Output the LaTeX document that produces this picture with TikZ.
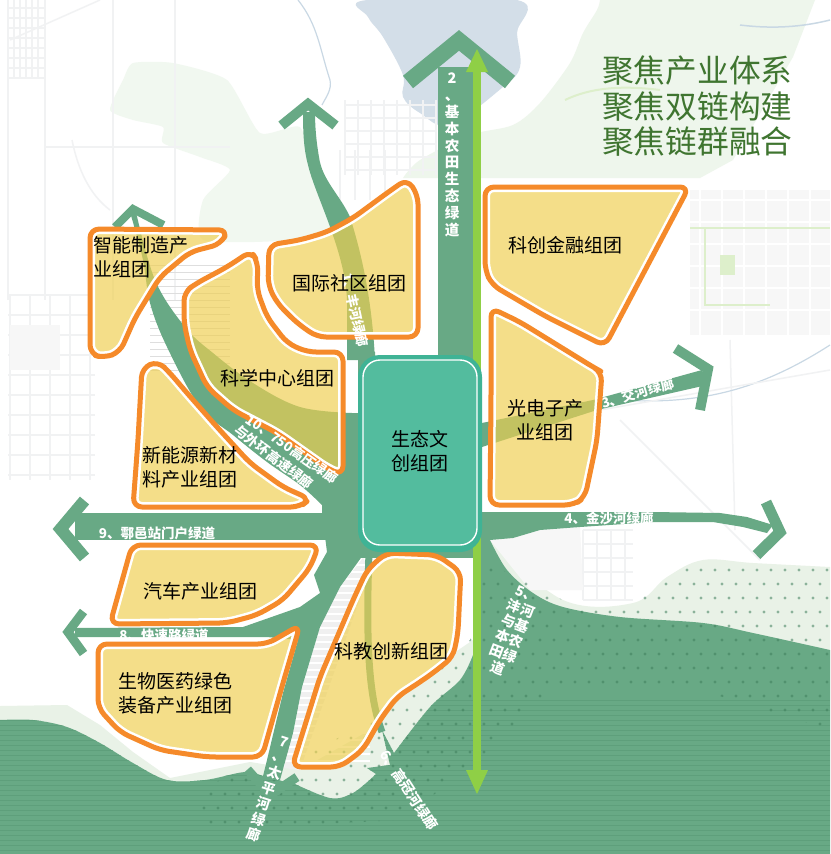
\documentclass[tikz,border=0pt]{standalone}
\usepackage{fontspec}
\setmainfont{Noto Sans CJK SC}
\definecolor{corgreen}{HTML}{68A985}
\definecolor{lime}{HTML}{8FCF46}
\definecolor{orangeln}{HTML}{F58A2A}
\definecolor{blockcol}{HTML}{EFCF50}
\definecolor{palegr}{HTML}{EEF6EC}
\definecolor{palezone}{HTML}{E9F2E7}
\definecolor{roadgr}{HTML}{F1F2F3}
\definecolor{lakecol}{HTML}{D3DEE8}
\definecolor{rivercol}{HTML}{C9D8E4}
\definecolor{titlecol}{HTML}{3F7530}
\definecolor{tealin}{HTML}{53BC9E}
\definecolor{tealout}{HTML}{3FB395}
\definecolor{stripecol}{HTML}{5E9F7B}
\definecolor{dotcol}{HTML}{3F7F5C}
\definecolor{accent}{HTML}{DDEFCB}
\tikzset{
  cor/.style={fill=corgreen},
  chev/.style={draw=corgreen,line join=miter,line cap=butt},
  road/.style={draw=roadgr,line width=1.5},
  blockfill/.style={fill=blockcol,fill opacity=0.67},
  blockline/.style={draw=orangeln,line width=5,line join=round},
  lab/.style={text=black,font=\fontsize{19}{24}\selectfont,inner sep=0pt},
  wl/.style={text=white,font=\bfseries\fontsize{13.5}{16}\selectfont,inner sep=0pt},
  ws/.style={text=white,font=\bfseries\fontsize{14.5}{16.8}\selectfont,inner sep=0pt,align=center},
}
\def\blockA{(90,300)--(90,229)--(228,230)--(221,244)--(190,252)--(160,277)--(135,318)--(120,352)--(104,358)--(90,354)--cycle}
\def\blockB{(343,420)--(343,475)--(328,469)--(277,433)--(233,410)--(207,387)--(190,350)--(184,323)--(184,292)--(197,283)--(227,267)--(251,251)--(258,262)--(257,290)--(267,317)--(287,343)--(307,352)--(343,352)--cycle}
\def\blockC{(418,270)--(418,337)--(317,337)--(297,323)--(277,303)--(268,285)--(269,245)--(300,240)--(327,232)--(353,218)--(387,193)--(407,179)--(418,195)--cycle}
\def\blockD{(138,440)--(142,368)--(158,361)--(170,373)--(187,393)--(217,427)--(250,463)--(283,487)--(310,499)--(300,507)--(133,507)--cycle}
\def\blockE{(220,545)--(319,545)--(310,568)--(283,600)--(257,615)--(227,623)--(110,624)--(132,545)--cycle}
\def\blockF{(200,644)--(267,644)--(300,625)--(283,683)--(262,757)--(207,757)--(160,750)--(120,732)--(98,708)--(98,644)--cycle}
\def\blockG{(460,590)--(458,633)--(453,657)--(433,673)--(420,682)--(397,697)--(380,720)--(363,750)--(340,767)--(292,767)--(320,677)--(353,600)--(367,570)--(386,553)--(437,555)--(461,572)--cycle}
\def\blockH{(491,400)--(491,308)--(520,322)--(593,367)--(602,372)--(597,440)--(585,497)--(574,505)--(490,505)--cycle}
\def\blockI{(590,187)--(689,187)--(605,346)--(545,316)--(492,285)--(485,270)--(485,187)--cycle}
\newcommand{\drawblock}[1]{%
  \begin{scope}[rounded corners=9]
  \fill[blockfill] #1;
  \begin{scope}\clip #1; \draw[white,line width=10] #1;\end{scope}
  \draw[blockline] #1;
  \end{scope}}
\def\massp{plot[smooth,tension=.55] coordinates {(0,720)(33,720)(67,727)(100,743)(133,763)(167,780)(205,780)(245,772)(265,777)} -- (290,783) -- plot[smooth,tension=.55] coordinates {(293,783)(330,798)(353,793)(376,774)} -- (367,768) -- (390,765) -- (382,730) -- (394,753) -- plot[smooth,tension=.55] coordinates {(394,753)(430,707)(460,680)(473,655)} -- (473,540) -- plot[smooth,tension=.55] coordinates {(490,540)(507,570)(533,593)(563,607)(620,617)(703,623)(753,633)(830,650)} -- (830,854) -- (0,854) -- cycle}
\begin{document}
\begin{tikzpicture}[x=1pt,y=-1pt]
\useasboundingbox (0,0) rectangle (830,854);
\fill[white] (0,0) rectangle (830,854);
% ---- base map
\fill[palegr!80!white] plot[smooth cycle,tension=.35] coordinates {(133,63)(173,63)(227,80)(260,133)(300,127)(315,175)(350,220)(290,240)(203,240)(203,200)(230,170)(200,157)(163,143)(163,127)(133,120)(110,110)(123,80)};
\fill[palegr] plot[smooth,tension=.5] coordinates {(600,0)(597,10)(583,33)(570,63)(540,103)(513,125)(470,135)(420,160)(403,178)} -- (700,178) -- (733,160) -- (793,57) -- (815,0) -- cycle;
\fill[black!3] (690,190) rectangle (830,335);
\foreach \x in {700,722,...,830} \draw[white,line width=1.6] (\x,185) -- (\x,340);
\foreach \y in {200,222,...,330} \draw[white,line width=1.6] (685,\y) -- (830,\y);
\draw[accent,line width=1.6] (690,228) -- (830,228);
\draw[accent,line width=2] (705,228) -- (705,305) -- (770,305);
\fill[accent] (720,255) rectangle (735,275);
\draw[accent,line width=2] (565,100) .. controls (590,88) and (620,85) .. (660,90);
\draw[rivercol,line width=1.5] (740,25) .. controls (780,30) and (810,25) .. (830,20);
\fill[lakecol] plot[smooth cycle,tension=.6] coordinates {(367,0)(368,17)(383,37)(403,75)(403,97)(420,113)(450,125)(503,87)(520,67)(517,33)(517,0)};
% left side roads
\foreach \x in {8,45,113,175} \draw[road] (\x,0) -- (\x,300);
\draw[road] (45,147) -- (230,147);
\foreach \x in {14,20,26,32,38} \draw[road] (\x,0) -- (\x,78);
\foreach \y in {8,18,...,78} \draw[road] (8,\y) -- (45,\y);
\draw[road] (10,40) -- (100,0);
\draw[road] (72,140) .. controls (78,170) and (90,195) .. (110,210);
\draw[rivercol,line width=1.2] (298,0) .. controls (318,25) and (320,50) .. (330,80) .. controls (332,90) and (326,97) .. (322,105);
\foreach \x in {10,30,...,90} \draw[road] (\x,295) -- (\x,480);
\foreach \y in {295,315,...,475} \draw[road] (8,\y) -- (95,\y);
\fill[black!3] (10,325) rectangle (60,370);
\foreach \x in {345,358,...,436} \draw[road] (\x,100) -- (\x,175);
\foreach \y in {105,118,...,170} \draw[road] (345,\y) -- (436,\y);
\foreach \x in {340,355,...,385} \draw[road] (\x,150) -- (\x,200);
\foreach \x in {583,597,...,633} \draw[road] (\x,530) -- (\x,600);
\foreach \y in {530,544,...,600} \draw[road] (583,\y) -- (633,\y);
\draw[road] (730,340) -- (735,530);
\draw[road] (620,420) -- (760,560);
\draw[rivercol,line width=1.2] (620,400) .. controls (700,405) and (760,390) .. (830,345);
\draw[road] (600,410) -- (830,370);
\foreach \y in {265,272,...,370} \draw[black!13,line width=.6] (150,\y) -- (230,\y);
% ---- pale zones
\fill[palezone] plot[smooth,tension=.6] coordinates {(490,540)(563,600)(633,603)(667,577)(703,560)(753,563)(830,567)} -- (830,700) -- (490,700) -- cycle;
\fill[black!3] (490,540) -- (540,530) -- (580,527) -- (583,590) -- (530,590) -- cycle;
\fill[palezone] (0,706) -- (67,705) -- (100,725) -- (133,752) -- (170,778) -- (250,762) -- (300,770) -- (370,730) -- (400,690) -- (473,640) -- (473,800) -- (0,800) -- cycle;
\fill[black!6] (363,558) -- (340,587) -- (320,627) -- (302,687) -- (292,733) -- (284,768) -- (300,770) -- (370,570) -- cycle;
\foreach \y in {565,572,...,765} \draw[white,line width=1.5] (280,\y) -- (370,\y);
% ---- mass
\fill[cor] \massp;
\begin{scope}
  \clip \massp;
  \foreach \y in {700,705,...,850} \draw[stripecol,line width=.6] (0,\y) -- (830,\y);
\end{scope}
\begin{scope}
  \clip (200,785) -- (290,765) -- (370,720) -- (400,690) -- (470,640) -- (482,560) -- (563,600) -- (633,600) -- (667,575) -- (703,558) -- (830,565) -- (830,730) -- (700,690) -- (550,690) -- (480,760) -- (400,820) -- (200,830) -- cycle;
  \foreach \j in {0,...,20}{
    \foreach \i in {0,...,46}{
      \pgfmathsetmacro{\px}{190+14*\i+7*mod(\j,2)}
      \pgfmathsetmacro{\py}{556+14*\j}
      \fill[dotcol,fill opacity=.55] (\px,\py) circle (1.6);
    }
  }
\end{scope}
% ---- corridors
\fill[cor] (438,67) -- (481,67) -- (481,360) -- (438,360) -- cycle;
\draw[chev,line width=16] (408,82) -- (459,40.4) -- (510,82);
% corridor 1
\fill[cor] (303,112) .. controls (303,135) and (304,150) .. (308,165) .. controls (315,195) and (345,250) .. (347,300) -- (347,360) -- (375,360) .. controls (372,300) and (362,255) .. (350,217) .. controls (340,195) and (322,180) .. (319,157) .. controls (316,140) and (315,125) .. (315,112) -- cycle;
\draw[chev,line width=10] (281.5,125.5) -- (308,104) -- (335.5,125.5);
% corridor 10/11 funnel
\fill[cor] plot[smooth,tension=.6] coordinates {(136,212)(155,280)(185,327)(213,353)(253,383)(300,407)(352,413)} -- (358,413) -- (358,552) -- (327,552) -- (322,513) -- plot[smooth,tension=.6] coordinates {(322,505)(300,485)(267,462)(233,435)(200,407)(167,347)(150,303)(143,260)(130,212)} -- cycle;
\draw[chev,line width=8] (115,227) -- (133,209) -- (163.5,225);
% hub
\fill[cor] (350,352) -- (375,352) -- (375,552) -- (358,552) -- (358,355) -- cycle;
\fill[cor] (358,500) -- (482,500) -- (482,558) -- (358,558) -- cycle;
% corridor 9
\fill[cor] (75,513) -- (360,513) -- (360,540) -- (75,540) -- cycle;
\draw[chev,line width=12] (84.5,500.5) -- (60.5,529) -- (84.5,557.5);
% corridor 8 and trunk 7
\fill[cor] (327,552) -- (314,575) -- (320,593) -- (300,607) -- (283,613) -- (243,627) -- (75,628) -- (75,637) -- (267,637) -- (298,640) -- (283,693) -- (267,760) -- (262,780) -- (280,780) -- (293,733) -- (302,687) -- (320,627) -- (340,587) -- (363,555) -- (358,540) -- cycle;
\draw[chev,line width=9] (83.5,611.5) -- (68,632) -- (83.5,653.5);
\draw[chev,line width=9] (247.5,769.5) -- (270,795) -- (297,777);
% corridor 3
\fill[cor] (482,423) -- (593,400) -- (702,370) -- (707,385) -- (597,410) -- (482,447) -- cycle;
\draw[chev,line width=10] (675.5,348.5) -- (708,369) -- (700,410);
% corridor 4
\fill[cor] (470,512) -- (653,512) -- (720,513) -- (747,517) -- (773,525) -- (767,533) -- (743,527) -- (713,522) -- (653,522) -- (580,527) -- (540,530) -- (513,538) -- (490,540) -- (470,540) -- cycle;
\draw[chev,line width=11] (766,502) -- (780,532) -- (756.5,555);
% corridor 6 (upper part)
\draw[draw=corgreen,line width=7] (369,552) .. controls (366,640) and (368,695) .. (382,732);
% lime
\fill[lime] (473,72) -- (481,72) -- (481,770) -- (473,770) -- cycle;
\fill[lime] (477,49) -- (488,72) -- (466,72) -- cycle;
\fill[lime] (477,794) -- (488,770) -- (466,770) -- cycle;
% ---- labels below the blocks
\node[wl] (l8) at (164,635) {8、快速路绿道};
\node[wl] (l9) at (157,533) {9、鄠邑站门户绿道};
\node[wl] (l4) at (609,518) {4、金沙河绿廊};
\node[wl,rotate=16] (l3) at (638,393) {3、交河绿廊};
% ---- blocks
\drawblock{\blockA}
\drawblock{\blockB}
\drawblock{\blockC}
\drawblock{\blockD}
\drawblock{\blockE}
\drawblock{\blockF}
\drawblock{\blockG}
\drawblock{\blockH}
\drawblock{\blockI}
% ---- centre
\node[fill=tealout,rounded corners=22,minimum width=124,minimum height=197,inner sep=0pt] (centreout) at (420,453.5) {};
\node[draw=white,line width=1.4,fill=tealin,rounded corners=17,minimum width=114,minimum height=185,inner sep=0pt] (centre) at (420,452.5) {};
% ---- white labels
\node[ws] (l2) at (452,155) {2\\、\\基\\本\\农\\田\\生\\态\\绿\\道};
\node[text=white,font=\bfseries\fontsize{13.5}{16}\selectfont,inner sep=0pt,rotate=-78] (l1) at (355,310) {1、丰河绿廊};
\node[wl,rotate=-35] (l10) at (292,449) {10、750高压绿廊};
\node[wl,rotate=-37] (l11) at (274,457) {与外环高速绿廊};
\node[ws,rotate=-21,font=\bfseries\fontsize{14}{16}\selectfont] (l5) at (512,632) {5、\\沣河\\与基\\本农\\田绿\\道};
\node[wl,rotate=-57,font=\bfseries\fontsize{14}{16}\selectfont] (l6) at (409,790) {6、高冠河绿廊};
\node[ws,rotate=-18,font=\bfseries\fontsize{14}{16.4}\selectfont] (l7) at (269,789) {7\\、\\太\\平\\河\\绿\\廊};
% ---- black labels
\node[lab,align=left,anchor=west] (t1) at (93,257) {智能制造产\\业组团};
\node[lab] (t2) at (349,283) {国际社区组团};
\node[lab] (t3) at (277,378) {科学中心组团};
\node[lab,align=left,anchor=west] (t4) at (142,467) {新能源新材\\料产业组团};
\node[lab] (t5) at (200,591) {汽车产业组团};
\node[lab,align=left,anchor=west] (t6) at (118,693) {生物医药绿色\\装备产业组团};
\node[lab] (t7) at (391,651) {科教创新组团};
\node[lab,align=center] (t8) at (420,451) {生态文\\创组团};
\node[lab,align=center] (t9) at (545,420) {光电子产\\业组团};
\node[lab] (t10) at (565,245) {科创金融组团};
\node[text=titlecol,font=\fontsize{31.7}{35.5}\selectfont,align=left,inner sep=0pt,anchor=north west] (title) at (602,56) {聚焦产业体系\\聚焦双链构建\\聚焦链群融合};
\end{tikzpicture}
\end{document}
